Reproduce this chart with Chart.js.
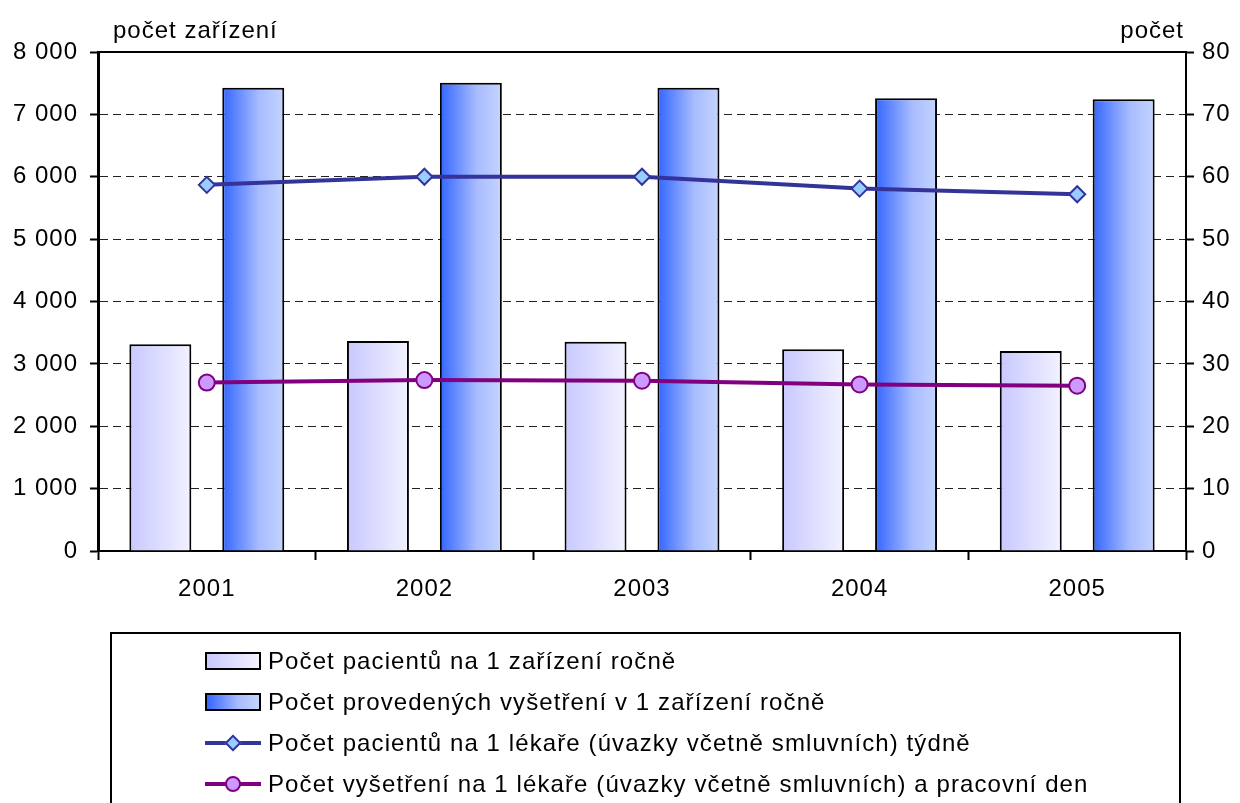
<!DOCTYPE html>
<html lang="cs">
<head>
<meta charset="utf-8">
<title>Počet pacientů a vyšetření</title>
<script src="https://cdn.jsdelivr.net/npm/chart.js@4.4.1/dist/chart.umd.min.js"></script>
<style>
  html, body { margin: 0; padding: 0; background: #fff; }
  body { width: 1240px; height: 803px; position: relative; overflow: hidden;
         font-family: "Liberation Sans", Arial, sans-serif; color: #000; }
  #chart-wrap { position: absolute; left: 0; top: 0; width: 1240px; height: 803px; }
  .axis-title { position: absolute; font-size: 24px; line-height: 1; letter-spacing: 1px; white-space: nowrap; }
  #legend { position: absolute; left: 110px; top: 632px; width: 1067px; height: 200px;
            border: 2px solid #000; box-sizing: content-box; }
  #legend .row { position: absolute; left: 93px; height: 30px; display: flex; align-items: center;
                 font-size: 24px; letter-spacing: 1.1px; white-space: nowrap; }
  .swatch { width: 56px; height: 18px; position: relative; margin-right: 7px; flex: none; }
  .swatch.box { box-sizing: border-box; border: 2px solid #000; }
  .swatch .ln { position: absolute; left: 0; right: 0; top: 7px; height: 4px; }
  .swatch .mk { position: absolute; box-sizing: border-box; border: 2px solid; }
</style>
</head>
<body>
<div id="chart-wrap"><canvas id="chart" width="1240" height="803"></canvas></div>
<div class="axis-title" style="left:113px; top:18px;">počet zařízení</div>
<div class="axis-title" style="right:56px; top:18px;">počet</div>
<div id="legend">
  <div class="row" style="top:12px;"><span class="swatch box" style="background:linear-gradient(to right,#c8c8ff,#f2f2ff);"></span>Počet pacientů na 1 zařízení ročně</div>
  <div class="row" style="top:53px;"><span class="swatch box" style="background:linear-gradient(to right,#3366ff,#a8bcff 60%,#c4d4ff);"></span>Počet provedených vyšetření v 1 zařízení ročně</div>
  <div class="row" style="top:94px;"><span class="swatch"><span class="ln" style="background:#333399;"></span><span class="mk" style="left:22px; top:3px; width:12px; height:12px; background:#99ccff; border-color:#333399; transform:rotate(45deg);"></span></span>Počet pacientů na 1 lékaře (úvazky včetně smluvních) týdně</div>
  <div class="row" style="top:135px;"><span class="swatch"><span class="ln" style="background:#800080;"></span><span class="mk" style="left:20px; top:1px; width:16px; height:16px; border-radius:50%; background:#cc99ff; border-color:#800080;"></span></span>Počet vyšetření na 1 lékaře (úvazky včetně smluvních) a pracovní den</div>
</div>
<script>
  // chart data
  const years = ['2001', '2002', '2003', '2004', '2005'];
  const patientsPerFacility = [3314, 3367, 3356, 3234, 3206];
  const examsPerFacility = [7428, 7508, 7428, 7258, 7242];
  const patientsPerDoctorWeek = [58.7, 60.0, 60.0, 58.1, 57.2];
  const examsPerDoctorDay = [27.0, 27.4, 27.3, 26.7, 26.5];

  const leftTicks = [0, 1000, 2000, 3000, 4000, 5000, 6000, 7000, 8000];
  const rightTicks = [0, 10, 20, 30, 40, 50, 60, 70, 80];

  const tickFont = { family: '"Liberation Sans", Arial, sans-serif', size: 24 };

  function fmtThousands(v) {
    return String(v).replace(/\B(?=(\d{3})+(?!\d))/g, ' ');
  }

  // horizontal gradient per bar, like the original Excel fill
  const barGradients = {
    0: [[0, '#c8c8ff'], [1, '#f2f2ff']],
    1: [[0, '#3366ff'], [0.6, '#a8bcff'], [1, '#c4d4ff']],
  };
  const gradientPlugin = {
    id: 'barGradient',
    beforeDraw(chart) {
      // the original text is a bit wider than Liberation Sans
      chart.ctx.letterSpacing = '1px';
    },
    beforeDatasetsDraw(chart) {
      const ctx = chart.ctx;
      chart.data.datasets.forEach((ds, i) => {
        const stops = barGradients[i];
        if (!stops) return;
        chart.getDatasetMeta(i).data.forEach((el) => {
          const p = el.getProps(['x', 'width'], true);
          const g = ctx.createLinearGradient(p.x - p.width / 2, 0, p.x + p.width / 2, 0);
          stops.forEach((s) => g.addColorStop(s[0], s[1]));
          el.options.backgroundColor = g;
        });
      });
    },
  };

  // solid frame line on top of the plot area
  const topLinePlugin = {
    id: 'topLine',
    beforeDatasetsDraw(chart) {
      const a = chart.chartArea;
      const ctx = chart.ctx;
      ctx.save();
      ctx.strokeStyle = '#000';
      ctx.lineWidth = 2;
      ctx.beginPath();
      ctx.moveTo(a.left, a.top);
      ctx.lineTo(a.right, a.top);
      ctx.stroke();
      ctx.restore();
    },
  };

  new Chart(document.getElementById('chart').getContext('2d'), {
    type: 'bar',
    data: {
      labels: years,
      datasets: [
        {
          type: 'bar',
          label: 'Počet pacientů na 1 zařízení ročně',
          data: patientsPerFacility,
          backgroundColor: () => '#dcdcff',
          borderColor: '#000',
          borderWidth: 2,
          yAxisID: 'y',
          order: 2,
        },
        {
          type: 'bar',
          label: 'Počet provedených vyšetření v 1 zařízení ročně',
          data: examsPerFacility,
          backgroundColor: () => '#7f9cff',
          borderColor: '#000',
          borderWidth: 2,
          yAxisID: 'y',
          order: 2,
        },
        {
          type: 'line',
          label: 'Počet pacientů na 1 lékaře (úvazky včetně smluvních) týdně',
          data: patientsPerDoctorWeek,
          borderColor: '#333399',
          borderWidth: 4,
          pointStyle: 'rectRot',
          pointRadius: 8,
          pointBorderWidth: 2,
          pointBackgroundColor: '#99ccff',
          pointBorderColor: '#333399',
          tension: 0,
          yAxisID: 'y1',
          order: 0,
        },
        {
          type: 'line',
          label: 'Počet vyšetření na 1 lékaře (úvazky včetně smluvních) a pracovní den',
          data: examsPerDoctorDay,
          borderColor: '#800080',
          borderWidth: 4,
          pointStyle: 'circle',
          pointRadius: 8,
          pointBorderWidth: 2,
          pointBackgroundColor: '#cc99ff',
          pointBorderColor: '#800080',
          tension: 0,
          yAxisID: 'y1',
          order: 0,
        },
      ],
    },
    options: {
      responsive: false,
      animation: false,
      categoryPercentage: 0.854,
      barPercentage: 0.667,
      layout: { padding: { top: 52, left: 0, right: 0, bottom: 0 } },
      plugins: {
        legend: { display: false },
        tooltip: { enabled: false },
      },
      scales: {
        x: {
          offset: true,
          grid: {
            offset: true,
            drawOnChartArea: false,
            drawTicks: true,
            tickLength: 9,
            tickColor: '#000',
            tickWidth: 2,
          },
          border: { color: '#000', width: 2 },
          ticks: { color: '#000', font: tickFont, padding: 15 },
          afterFit(scale) { scale.height = 252; },
        },
        y: {
          position: 'left',
          min: 0,
          max: 8000,
          afterBuildTicks(scale) { scale.ticks = leftTicks.map((v) => ({ value: v })); },
          grid: {
            color: '#222',
            lineWidth: 1,
            drawTicks: true,
            tickLength: 8,
            tickColor: '#000',
            tickWidth: 2,
          },
          border: { color: '#000', width: 3, dash: [8, 5] },
          ticks: { color: '#000', font: tickFont, padding: 12, callback: (v) => fmtThousands(v) },
          afterFit(scale) { scale.width = 98; },
        },
        y1: {
          position: 'right',
          min: 0,
          max: 80,
          afterBuildTicks(scale) { scale.ticks = rightTicks.map((v) => ({ value: v })); },
          grid: {
            drawOnChartArea: false,
            drawTicks: true,
            tickLength: 8,
            tickColor: '#000',
            tickWidth: 2,
          },
          border: { color: '#000', width: 2 },
          ticks: { color: '#000', font: tickFont, padding: 8 },
          afterFit(scale) { scale.width = 54; },
        },
      },
    },
    plugins: [gradientPlugin, topLinePlugin],
  });
</script>
</body>
</html>
